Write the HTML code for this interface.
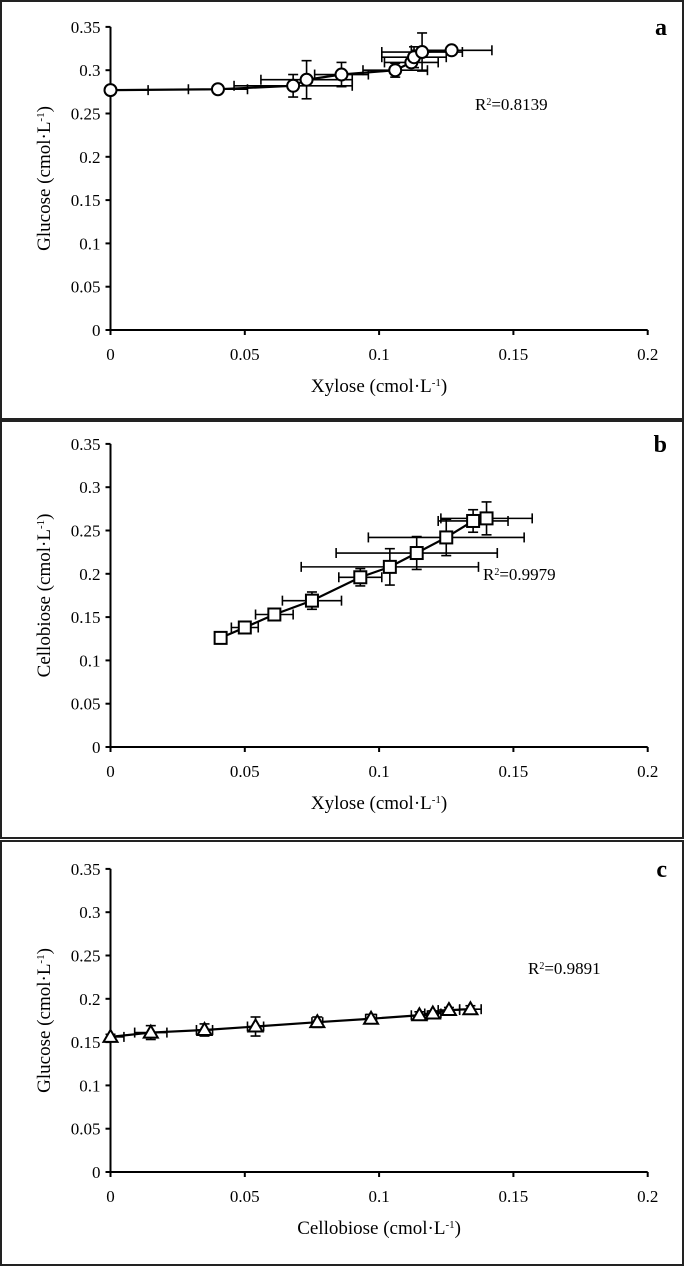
<!DOCTYPE html>
<html><head><meta charset="utf-8"><style>
html,body{margin:0;padding:0;background:#fff;}
svg{display:block;font-family:"Liberation Serif",serif;}
</style></head><body>
<svg id="fig" width="685" height="1286" viewBox="0 0 685 1286">
<rect x="1" y="1" width="682" height="418" fill="none" stroke="#222" stroke-width="2"/>
<rect x="1" y="421" width="682" height="417" fill="none" stroke="#222" stroke-width="2"/>
<rect x="1" y="841" width="682" height="424" fill="none" stroke="#222" stroke-width="2"/>
</svg>
<script>
// Panel a data
const aX = [0, 0.040, 0.068, 0.073, 0.086, 0.106, 0.112, 0.113, 0.116, 0.127];
const aY = [0.277, 0.278, 0.282, 0.289, 0.295, 0.300, 0.309, 0.315, 0.321, 0.323];
const aXerr = [0.014, 0.011, 0.022, 0.017, 0.010, 0.012, 0.010, 0.012, 0.015, 0.015];
const aYerr = [0.001, 0.002, 0.013, 0.022, 0.014, 0.008, 0.005, 0.012, 0.022, 0.003];
// Panel b data
const bX = [0.041, 0.050, 0.061, 0.075, 0.093, 0.104, 0.114, 0.125, 0.135, 0.140];
const bY = [0.126, 0.138, 0.153, 0.169, 0.196, 0.208, 0.224, 0.242, 0.261, 0.264];
const bXerr = [0.001, 0.005, 0.007, 0.011, 0.008, 0.033, 0.030, 0.029, 0.013, 0.017];
const bYerr = [0.002, 0.004, 0.005, 0.010, 0.010, 0.021, 0.019, 0.021, 0.013, 0.019];
// Panel c data
const cX = [0, 0.015, 0.035, 0.054, 0.077, 0.097, 0.115, 0.120, 0.126, 0.134];
const cY = [0.156, 0.161, 0.164, 0.168, 0.173, 0.177, 0.181, 0.183, 0.187, 0.188];
const cXerr = [0.005, 0.006, 0.003, 0.003, 0.002, 0.002, 0.003, 0.003, 0.004, 0.004];
const cYerr = [0.003, 0.008, 0.007, 0.011, 0.006, 0.005, 0.004, 0.003, 0.003, 0.004];
// Axis ticks
const xTicks = [0, 0.05, 0.1, 0.15, 0.2];
const xTickLabels = ["0", "0.05", "0.1", "0.15", "0.2"];
const yTicks = [0, 0.05, 0.1, 0.15, 0.2, 0.25, 0.3, 0.35];
const yTickLabels = ["0", "0.05", "0.1", "0.15", "0.2", "0.25", "0.3", "0.35"];

const NS = "http://www.w3.org/2000/svg";
const svg = document.getElementById("fig");
function mk(tag, attrs, parent) {
  const e = document.createElementNS(NS, tag);
  for (const k in attrs) e.setAttribute(k, attrs[k]);
  (parent || svg).appendChild(e);
  return e;
}
const X0 = 110.5, XS = 2686, YS = 866;

function panel(key, baseY, xs, ys, xe, ye, marker, xTitle, yTitle, r2, r2x, r2y) {
  const g = mk("g", {});
  
  
  const sx = v => X0 + v * XS;
  const sy = v => baseY - v * YS;
  const ax = mk("line", {x1: sx(0), y1: baseY, x2: sx(0.2), y2: baseY, stroke: "#000", "stroke-width": 2}, g);
  
  
  const ay = mk("line", {x1: sx(0), y1: sy(0.35), x2: sx(0), y2: baseY, stroke: "#000", "stroke-width": 2}, g);
  
  
  xTicks.forEach((t, i) => {
    mk("line", {x1: sx(t), y1: baseY, x2: sx(t), y2: baseY + 5, stroke: "#000", "stroke-width": 2}, g);
    const tl = mk("text", {x: sx(t), y: baseY + 30, "text-anchor": "middle", "font-size": 17}, g);
    tl.textContent = xTickLabels[i];
    
    
  });
  yTicks.forEach((t, i) => {
    mk("line", {x1: sx(0) - 5, y1: sy(t), x2: sx(0), y2: sy(t), stroke: "#000", "stroke-width": 2}, g);
    const tl = mk("text", {x: sx(0) - 10, y: sy(t) + 6, "text-anchor": "end", "font-size": 17}, g);
    tl.textContent = yTickLabels[i];
    
    
  });
  const xt = mk("text", {x: sx(0.1), y: baseY + 62, "text-anchor": "middle", "font-size": 19}, g);
  xt.innerHTML = xTitle + ' (cmol·L<tspan baseline-shift="super" font-size="11">-1</tspan>)';
  
  
  const cy = sy(0.175);
  const yt = mk("text", {x: 0, y: 0, "text-anchor": "middle", "font-size": 19, transform: `translate(50,${cy}) rotate(-90)`}, g);
  yt.innerHTML = yTitle + ' (cmol·L<tspan baseline-shift="super" font-size="11">-1</tspan>)';
  
  
  const lt = mk("text", {x: 667, y: sy(0.35) + 8, "text-anchor": "end", "font-size": 24, "font-weight": "bold"}, g);
  lt.textContent = key;
  
  
  const rt = mk("text", {x: r2x, y: r2y, "font-size": 17}, g);
  rt.innerHTML = 'R<tspan baseline-shift="super" font-size="10">2</tspan>=' + r2;
  
  
  xs.forEach((v, i) => {
    const px = sx(v), py = sy(ys[i]);
    const e = mk("g", {stroke: "#000", "stroke-width": 1.6}, g);
    
    
    const x1 = sx(Math.max(0, v - xe[i])), x2 = sx(v + xe[i]);
    mk("line", {x1: x1, y1: py, x2: x2, y2: py}, e);
    mk("line", {x1: x1, y1: py - 5, x2: x1, y2: py + 5}, e);
    mk("line", {x1: x2, y1: py - 5, x2: x2, y2: py + 5}, e);
    const y1 = sy(ys[i] - ye[i]), y2 = sy(ys[i] + ye[i]);
    mk("line", {x1: px, y1: y1, x2: px, y2: y2}, e);
    mk("line", {x1: px - 5, y1: y1, x2: px + 5, y2: y1}, e);
    mk("line", {x1: px - 5, y1: y2, x2: px + 5, y2: y2}, e);
  });
  const line = mk("polyline", {points: xs.map((v, i) => sx(v) + "," + sy(ys[i])).join(" "), fill: "none", stroke: "#000", "stroke-width": 2.2}, g);
  
  
  xs.forEach((v, i) => {
    const px = sx(v), py = sy(ys[i]);
    let m;
    if (marker === "circle") m = mk("circle", {cx: px, cy: py, r: 6, fill: "#fff", stroke: "#000", "stroke-width": 2}, g);
    else if (marker === "square") m = mk("rect", {x: px - 6, y: py - 6, width: 12, height: 12, fill: "#fff", stroke: "#000", "stroke-width": 2}, g);
    else m = mk("polygon", {points: `${px},${py - 7} ${px + 7},${py + 5} ${px - 7},${py + 5}`, fill: "#fff", stroke: "#000", "stroke-width": 2}, g);
    
    
  });
}
panel("a", 330, aX, aY, aXerr, aYerr, "circle", "Xylose", "Glucose", "0.8139", 475, 110);
panel("b", 747, bX, bY, bXerr, bYerr, "square", "Xylose", "Cellobiose", "0.9979", 483, 580);
panel("c", 1172, cX, cY, cXerr, cYerr, "triangle", "Cellobiose", "Glucose", "0.9891", 528, 974);
</script>
</body></html>
